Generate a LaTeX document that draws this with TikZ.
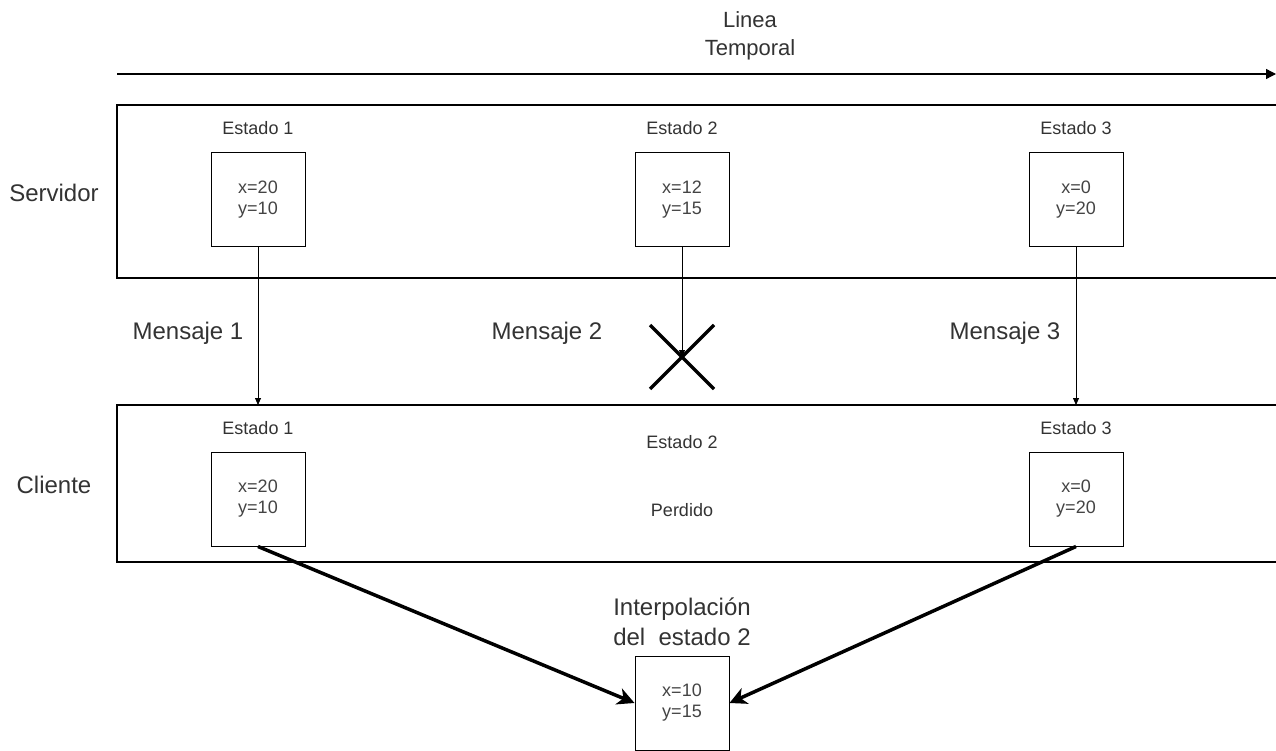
\documentclass[tikz,border=0pt]{standalone}
\usepackage{fontspec}
\setmainfont{Liberation Sans}
\usetikzlibrary{arrows.meta,calc}
\definecolor{txt}{HTML}{333333}
\definecolor{boxtxt}{HTML}{444444}
\begin{document}
\begin{tikzpicture}[x=1pt,y=-1pt,
  statebox/.style={draw,line width=1pt,minimum width=94pt,minimum height=94pt,inner sep=0pt,font=\fontsize{18}{21}\selectfont,text=boxtxt,align=center},
  small/.style={font=\fontsize{18}{21}\selectfont,text=txt,align=center,inner sep=0pt},
  big/.style={font=\fontsize{24}{30}\selectfont,text=txt,align=center,inner sep=0pt},
  thin arrow/.style={line width=0.8pt,-{Triangle[length=7pt,width=6pt]}},
  thick arrow/.style={line width=3.5pt,-{Triangle[length=17pt,width=17pt,inset=5pt]}},
  band/.style={line width=1.3pt}]
\useasboundingbox[fill=white] (0,0) rectangle (1276,751);
% timeline
\coordinate (t0) at (117,74);
\coordinate (t1) at (1276,74);
\draw[line width=1.3pt,-{Triangle[length=10pt,width=10pt]}] (t0) -- (t1);
\node[big,font=\fontsize{22}{28}\selectfont] (tl) at (750,36) {Linea\\Temporal};
% bands
\draw[band] (1280,105) -- (117,105) -- (117,278) -- (1280,278);
\draw[band] (1280,405) -- (117,405) -- (117,562) -- (1280,562);
\node[big] (srv) at (54,193) {Servidor};
\node[big] (cli) at (54,485) {Cliente};
% server
\node[small] (sl1) at (258,128) {Estado 1};
\node[small] (sl2) at (682,128) {Estado 2};
\node[small] (sl3) at (1076,128) {Estado 3};
\node[statebox] (s1) at (258,200) {x=20\\y=10};
\node[statebox] (s2) at (682,200) {x=12\\y=15};
\node[statebox] (s3) at (1076,200) {x=0\\y=20};
% client
\node[small] (cl1) at (258,428) {Estado 1};
\node[small] (cl2) at (682,442) {Estado 2};
\node[small] (cl3) at (1076,428) {Estado 3};
\node[small] (lost) at (682,510) {Perdido};
\node[statebox] (c1) at (258,499) {x=20\\y=10};
\node[statebox] (c3) at (1076,499) {x=0\\y=20};
% messages
\node[big] (m1) at (188,333) {Mensaje 1};
\node[big] (m2) at (547,333) {Mensaje 2};
\node[big] (m3) at (1005,333) {Mensaje 3};
\coordinate (x0) at (682,357);
\coordinate (b1) at (258,405);
\coordinate (b3) at (1076,405);
\draw[thin arrow] (s1.south) -- (b1);
\draw[thin arrow] (s2.south) -- (x0);
\draw[thin arrow] (s3.south) -- (b3);
\draw[line width=3.5pt] ($(x0)+(-32,-32)$) -- ($(x0)+(32,32)$);
\draw[line width=3.5pt] ($(x0)+(-32,32)$) -- ($(x0)+(32,-32)$);
% interpolation
\node[big] (il) at (682,622) {Interpolación\\del\ \ estado 2};
\node[statebox] (ib) at (682,703) {x=10\\y=15};
\draw[thick arrow] (c1.south) -- (ib.west);
\draw[thick arrow] (c3.south) -- (ib.east);
\end{tikzpicture}
\end{document}
